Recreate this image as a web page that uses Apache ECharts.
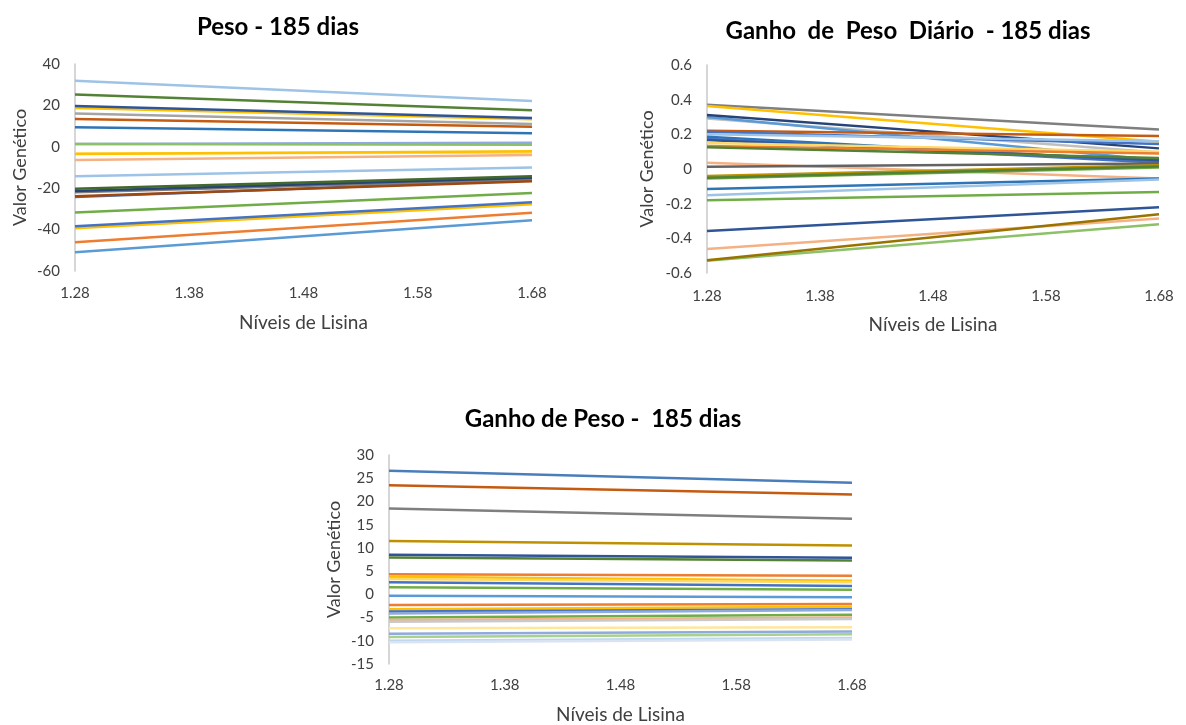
<!DOCTYPE html>
<html>
<head>
<meta charset="utf-8">
<script src="https://cdn.jsdelivr.net/npm/echarts@6/dist/echarts.min.js"></script>
<style>
  html, body { margin: 0; padding: 0; background: #fff; }
  #chart { width: 1186px; height: 725px; }
</style>
</head>
<body>
<div id="chart"></div>
<script>
// Lysine levels (x categories shared by the three panels)
const lysineLevels = ['1.28', '1.38', '1.48', '1.58', '1.68'];

// Peso - 185 dias: genetic value at 1.28 and at 1.68, one pair per animal
const pesoLines = [
  [31.9, 22.1], [25.3, 17.7], [18.8, 13.3], [19.7, 13.9], [16.1, 11.0],
  [13.4, 9.7], [9.5, 6.5], [1.4, 1.9], [1.3, 1.0], [-3.2, -2.8],
  [-3.5, -2.1], [-6.4, -4.0], [-14.2, -10.0], [-24.3, -16.0], [-22.0, -15.8],
  [-23.9, -16.6], [-21.3, -15.0], [-20.3, -14.2], [-31.7, -22.3], [-39.4, -27.7],
  [-38.4, -26.8], [-46.1, -31.9], [-51.0, -35.5]
];
const pesoColors = [
  '#9DC3E6', '#548235', '#FFC000', '#2F5597', '#A5A5A5',
  '#C55A11', '#2E75B6', '#8FAADC', '#8CC168', '#FFD966',
  '#FFC000', '#F4B183', '#9DC3E6', '#4472C4', '#7F7F7F',
  '#9E480E', '#264478', '#43682B', '#70AD47', '#FFC000',
  '#4472C4', '#ED7D31', '#5B9BD5'
];

// Ganho de Peso Diário - 185 dias
const gpdLines = [
  [0.371, 0.228], [0.292, 0.095], [0.300, 0.050], [0.363, 0.157], [0.311, 0.119],
  [0.220, 0.190], [0.215, 0.144], [0.200, 0.160], [0.186, 0.045], [0.175, 0.036],
  [0.167, 0.050], [0.150, 0.100], [0.132, 0.090], [0.125, 0.064], [0.036, -0.055],
  [0.013, 0.032], [-0.041, 0.022], [-0.055, 0.009], [-0.050, 0.015], [-0.116, -0.055],
  [-0.151, -0.060], [-0.180, -0.132], [-0.357, -0.220], [-0.461, -0.286], [-0.530, -0.319],
  [-0.527, -0.261]
];
const gpdColors = [
  '#7F7F7F', '#BFBFBF', '#5B9BD5', '#FFC000', '#264478',
  '#C55A11', '#4472C4', '#9DC3E6', '#2E75B6', '#4472C4',
  '#2F5597', '#FFD966', '#ED7D31', '#548235', '#F4B183',
  '#636363', '#BF9000', '#70AD47', '#548235', '#2E75B6',
  '#9DC3E6', '#70AD47', '#2F5597', '#F4B183', '#8CC168',
  '#997300'
];

// Ganho de Peso - 185 dias
const gpLines = [
  [26.6, 24.0], [23.5, 21.5], [18.5, 16.3], [11.5, 10.5], [7.95, 7.3],
  [8.5, 7.9], [4.3, 4.0], [3.8, 2.9], [3.3, 2.6], [2.6, 1.8],
  [1.5, 1.0], [-0.3, -0.64], [-2.3, -2.1], [-3.2, -2.7], [-3.7, -3.2],
  [-4.1, -3.4], [-5.0, -4.4], [-5.5, -5.0], [-5.9, -5.3], [-7.3, -7.1],
  [-8.5, -8.0], [-9.2, -8.6], [-10.0, -9.4], [-10.3, -9.7]
];
const gpColors = [
  '#4A7EBB', '#C55A11', '#7F7F7F', '#BF9000', '#548235',
  '#2F5597', '#ED7D31', '#FFC000', '#FFD966', '#4472C4',
  '#70AD47', '#5B9BD5', '#ED7D31', '#FFC000', '#4472C4',
  '#8FAADC', '#70AD47', '#F4B183', '#C9C9C9', '#FFE699',
  '#8FAADC', '#A9D18E', '#BDD7EE', '#DAE3F3'
];

// Y-axis scales per panel
const pesoAxis = { min: -60, max: 40, interval: 20 };
const gpdAxis = { min: -0.6, max: 0.6, interval: 0.2 };
const gpAxis = { min: -15, max: 30, interval: 5 };

const FONT = 'Lato, "Open Sans", sans-serif';
const LABEL_COLOR = '#404040';

function xAxisFor(gridIndex, gap, nameGap) {
  return {
    type: 'category',
    gridIndex: gridIndex,
    data: lysineLevels,
    boundaryGap: false,
    axisLine: { show: false },
    axisTick: { show: false },
    axisLabel: { color: LABEL_COLOR, fontFamily: FONT, fontSize: 15, margin: gap },
    splitLine: { show: false },
    name: 'Níveis de Lisina',
    nameLocation: 'middle',
    nameGap: nameGap,
    nameTextStyle: { color: LABEL_COLOR, fontFamily: FONT, fontSize: 19 }
  };
}

function yAxisFor(gridIndex, scale, nameGap, digits) {
  return {
    type: 'value',
    gridIndex: gridIndex,
    min: scale.min,
    max: scale.max,
    interval: scale.interval,
    axisLine: { show: true, lineStyle: { color: '#C8C8C8', width: 1.5 } },
    axisTick: { show: false },
    splitLine: { show: false },
    axisLabel: {
      color: LABEL_COLOR, fontFamily: FONT, fontSize: 15, margin: 15,
      formatter: v => digits ? (Math.round(v * 10) / 10).toString() : String(Math.round(v))
    },
    name: 'Valor Genético',
    nameLocation: 'middle',
    nameGap: nameGap,
    nameRotate: 90,
    nameTextStyle: { color: LABEL_COLOR, fontFamily: FONT, fontSize: 18 }
  };
}

function seriesFor(lines, colors, axisIndex) {
  return lines.map((pair, i) => ({
    type: 'line',
    xAxisIndex: axisIndex,
    yAxisIndex: axisIndex,
    data: [pair[0], null, null, null, pair[1]],
    connectNulls: true,
    symbol: 'none',
    silent: true,
    animation: false,
    lineStyle: { color: colors[i], width: 2.5 }
  }));
}

const titleStyle = { fontFamily: FONT, fontSize: 24, fontWeight: 'bold', color: '#000' };

const option = {
  backgroundColor: '#fff',
  animation: false,
  title: [
    { text: 'Peso - 185 dias', left: 273, top: 10, textAlign: 'center', textStyle: titleStyle },
    { text: 'Ganho  de  Peso  Diário  - 185 dias', left: 903, top: 14, textAlign: 'center', textStyle: titleStyle },
    { text: 'Ganho de Peso -  185 dias', left: 598, top: 402, textAlign: 'center', textStyle: titleStyle }
  ],
  grid: [
    { left: 75, top: 64, width: 457, height: 207 },
    { left: 707, top: 65, width: 452, height: 208 },
    { left: 389, top: 455, width: 463, height: 209 }
  ],
  xAxis: [
    xAxisFor(0, 15, 42),
    xAxisFor(1, 16, 42),
    xAxisFor(2, 14, 41)
  ],
  yAxis: [
    yAxisFor(0, pesoAxis, 46, false),
    yAxisFor(1, gpdAxis, 51, true),
    yAxisFor(2, gpAxis, 46, false)
  ],
  series: [
    ...seriesFor(pesoLines, pesoColors, 0),
    ...seriesFor(gpdLines, gpdColors, 1),
    ...seriesFor(gpLines, gpColors, 2)
  ]
};

const chart = echarts.init(document.getElementById('chart'), null, { renderer: 'canvas' });
chart.setOption(option);
</script>
</body>
</html>
